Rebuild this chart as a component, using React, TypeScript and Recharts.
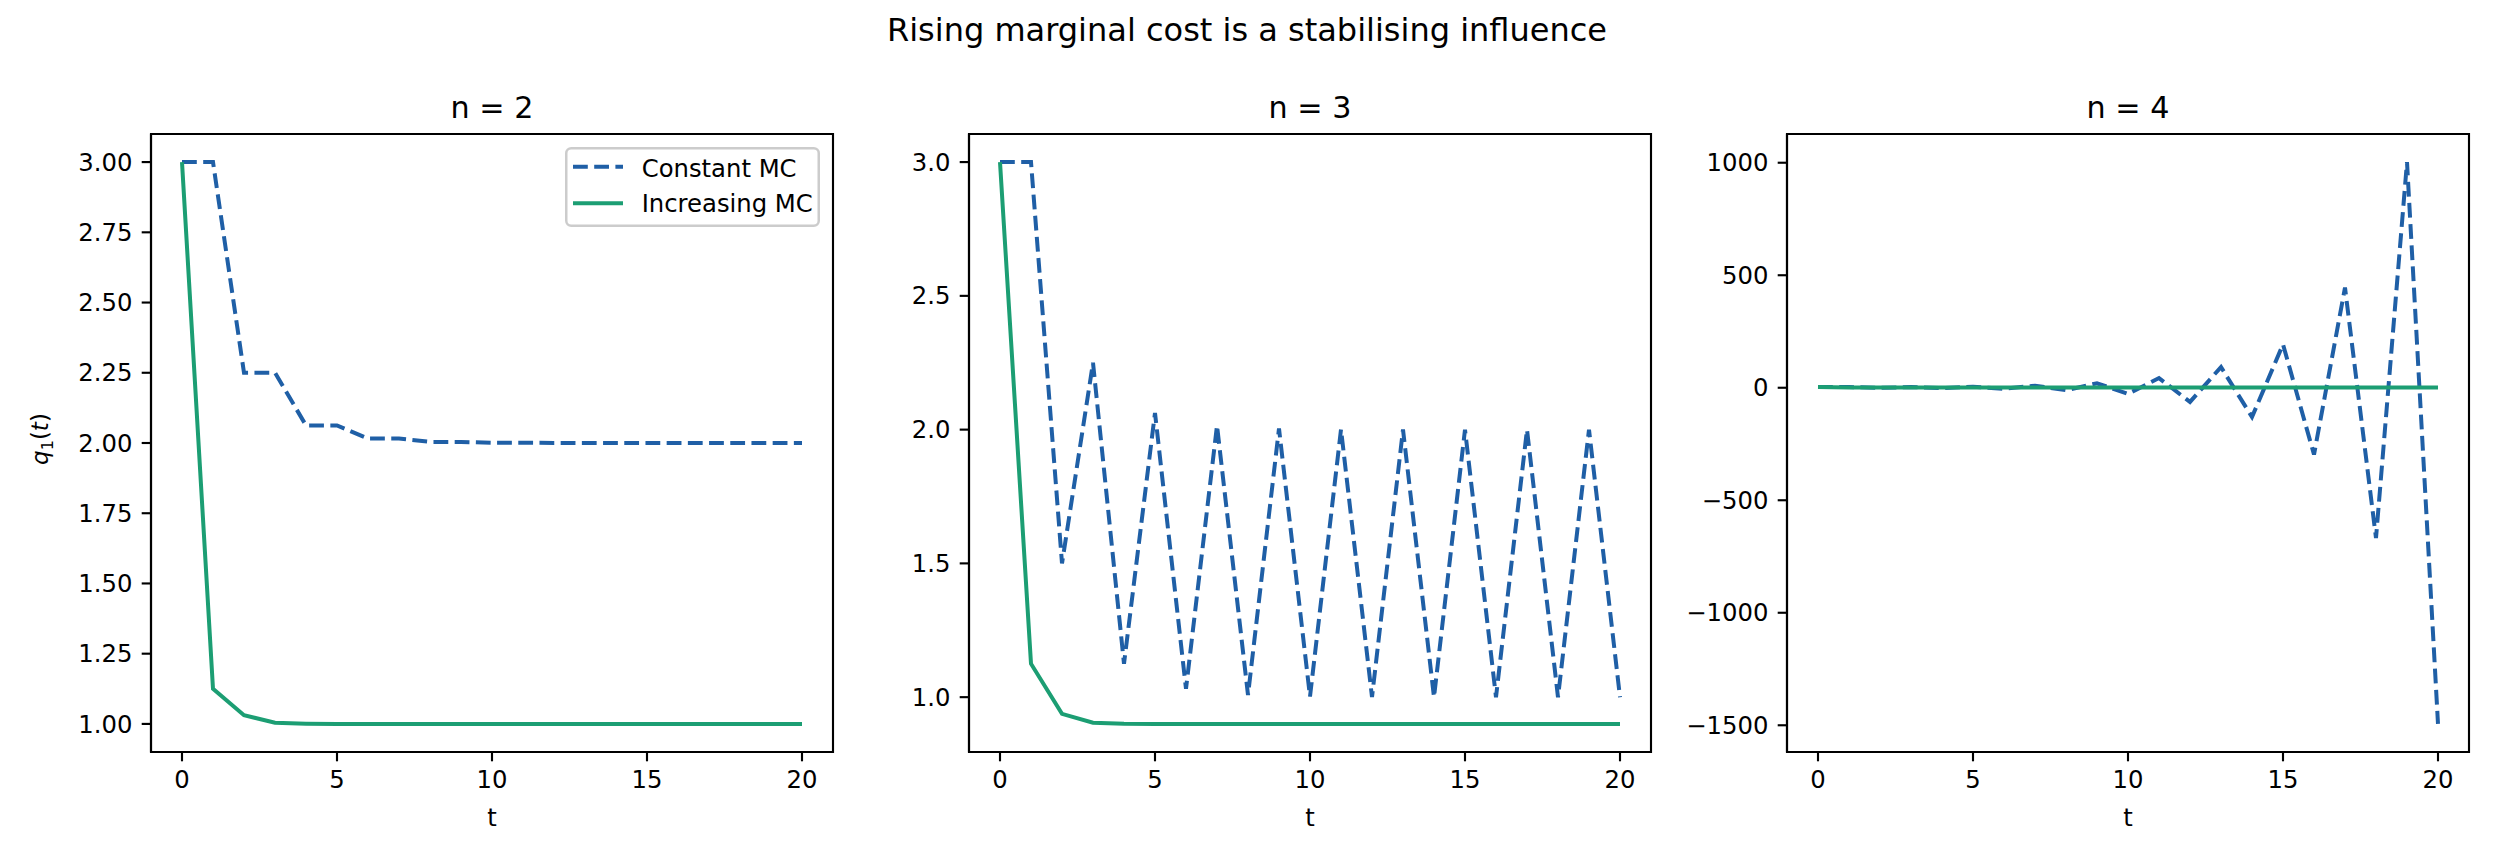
import React from "react";
import { LineChart, Line, XAxis, YAxis, ReferenceArea, Label, Legend } from "recharts";

// time steps
const steps = [0, 1, 2, 3, 4, 5, 6, 7, 8, 9, 10, 11, 12, 13, 14, 15, 16, 17, 18, 19, 20];

// q1(t), constant marginal cost
const constN2 = [3, 3, 2.25, 2.25, 2.0625, 2.0625, 2.0156, 2.0156, 2.0039, 2.0039, 2.001, 2.001, 2.0002, 2.0002, 2.0001, 2.0001, 2, 2, 2, 2, 2];
const constN3 = [3, 3, 1.5, 2.25, 1.125, 2.0625, 1.031, 2.0156, 1.008, 2.004, 1.002, 2.001, 1.0005, 2.0002, 1.0001, 2, 1, 2, 1, 2, 1];
const constN4 = [3, 3, 0, 3, -1.5, 4.5, -4.5, 9, -11, 20, -27, 43, -63, 92, -130, 193, -297, 445, -668, 1003, -1494];

// q1(t), increasing marginal cost
const incN2 = [3, 1.125, 1.031, 1.004, 1.001, 1, 1, 1, 1, 1, 1, 1, 1, 1, 1, 1, 1, 1, 1, 1, 1];
const incN3 = [3, 1.125, 0.9375, 0.9047, 0.9006, 0.9001, 0.9, 0.9, 0.9, 0.9, 0.9, 0.9, 0.9, 0.9, 0.9, 0.9, 0.9, 0.9, 0.9, 0.9, 0.9];
const incN4 = [3, 1.125, 0.875, 0.82, 0.81, 0.8, 0.8, 0.8, 0.8, 0.8, 0.8, 0.8, 0.8, 0.8, 0.8, 0.8, 0.8, 0.8, 0.8, 0.8, 0.8];

const xTicks = [0, 5, 10, 15, 20];
const yTicksN2 = [1, 1.25, 1.5, 1.75, 2, 2.25, 2.5, 2.75, 3];
const yTicksN3 = [1, 1.5, 2, 2.5, 3];
const yTicksN4 = [-1500, -1000, -500, 0, 500, 1000];

const BLUE = "#1f5fa6";
const GREEN = "#1c9e73";
const FONT = "DejaVu Sans";
const TICK_FS = 24.3;
const SUPTITLE_FS = 32;
const TITLE_FS = 30.2;
const DASH = "14.8 6.4";

const PLOT_TOP = 134;
const PLOT_W = 682;
const PLOT_H = 618;
const MT = 10;
const MR = 12;
const XH = 100;

const buildRows = (a: number[], b: number[]) => steps.map((t, i) => ({ t, cmc: a[i], imc: b[i] }));

const minusFmt = (v: number) => String(v).replace("-", "\u2212");

const panels = [
  { title: "n = 2", left: 151, yw: 151, rows: buildRows(constN2, incN2), domain: [0.9, 3.1], ticks: yTicksN2, fmt: (v: number) => v.toFixed(2), ylabel: true, legend: true },
  { title: "n = 3", left: 969, yw: 130, rows: buildRows(constN3, incN3), domain: [0.795, 3.105], ticks: yTicksN3, fmt: (v: number) => v.toFixed(1), ylabel: false, legend: false },
  { title: "n = 4", left: 1787, yw: 130, rows: buildRows(constN4, incN4), domain: [-1618.8, 1127.7], ticks: yTicksN4, fmt: minusFmt, ylabel: false, legend: false },
];

const LegendBox = () => (
  <svg width={256} height={81} style={{ display: "block" }}>
    <rect x={1.25} y={1.25} width={252.5} height={77.5} rx={5} fill="#fff" fillOpacity={0.8} stroke="#cccccc" strokeWidth={2.5} />
    <line x1={8} x2={58} y1={19.7} y2={19.7} stroke={BLUE} strokeWidth={4} strokeDasharray={DASH} />
    <text x={76.7} y={29.7} fontFamily={FONT} fontSize={TICK_FS} fill="#000">Constant MC</text>
    <line x1={8} x2={58} y1={56.3} y2={56.3} stroke={GREEN} strokeWidth={4} />
    <text x={76.7} y={64.7} fontFamily={FONT} fontSize={TICK_FS} fill="#000">Increasing MC</text>
  </svg>
);

const xLabel = (props: any) => {
  const vb = props.viewBox || {};
  return (
    <text x={vb.x + vb.width / 2} y={vb.y + 74} textAnchor="middle" fontFamily={FONT} fontSize={TICK_FS} fill="#000">t</text>
  );
};

const yLabel = (props: any) => {
  const vb = props.viewBox || {};
  const cx = vb.x + 48;
  const cy = vb.y + vb.height / 2 - 4;
  return (
    <text x={cx} y={cy} transform={`rotate(-90, ${cx}, ${cy})`} textAnchor="middle" fontFamily={FONT} fontSize={23} fill="#000">
      <tspan fontStyle="italic">q</tspan>
      <tspan fontSize={16} dy={5}>1</tspan>
      <tspan dy={-5}>(</tspan>
      <tspan fontStyle="italic">t</tspan>
      <tspan>)</tspan>
    </text>
  );
};

function Panel({ p }: { p: any }) {
  const width = p.yw + PLOT_W + MR;
  const height = MT + PLOT_H + XH;
  const axisStyle = { stroke: "#000", strokeWidth: 2.13 };
  const tickStyle = { fontFamily: FONT, fontSize: TICK_FS, fill: "#000" };
  return (
    <div style={{ position: "absolute", left: p.left - p.yw, top: PLOT_TOP - MT }}>
      <LineChart width={width} height={height} data={p.rows} margin={{ top: MT, right: MR, bottom: 0, left: 0 }}>
        <XAxis
          dataKey="t"
          type="number"
          domain={[-1, 21]}
          ticks={xTicks}
          height={XH}
          axisLine={axisStyle}
          tickLine={axisStyle}
          tickSize={9.3}
          tickMargin={9.3}
          tick={tickStyle}
          allowDataOverflow
        >
          <Label content={xLabel} />
        </XAxis>
        <YAxis
          type="number"
          domain={p.domain}
          ticks={p.ticks}
          tickFormatter={p.fmt}
          width={p.yw}
          axisLine={axisStyle}
          tickLine={axisStyle}
          tickSize={9.3}
          tickMargin={9.3}
          tick={tickStyle}
          allowDataOverflow
        >
          {p.ylabel ? <Label content={yLabel} /> : null}
        </YAxis>
        <ReferenceArea x1={-1} x2={21} y1={p.domain[0]} y2={p.domain[1]} fill="none" stroke="#000" strokeWidth={2.13} ifOverflow="visible" />
        <Line dataKey="cmc" name="Constant MC" type="linear" stroke={BLUE} strokeWidth={4} strokeDasharray={DASH} dot={false} isAnimationActive={false} />
        <Line dataKey="imc" name="Increasing MC" type="linear" stroke={GREEN} strokeWidth={4} dot={false} isAnimationActive={false} />
        {p.legend ? (
          <Legend
            layout="horizontal"
            verticalAlign="middle"
            align="center"
            content={() => <LegendBox />}
            wrapperStyle={{ position: "absolute", left: 565 - (p.left - p.yw), top: 147 - (PLOT_TOP - MT), width: 256, height: 81 }}
          />
        ) : null}
      </LineChart>
    </div>
  );
}

export default function App() {
  return (
    <div style={{ position: "absolute", left: 0, top: 0, width: 2496, height: 864, background: "#fff", overflow: "hidden" }}>
      <svg width={2496} height={864} style={{ position: "absolute", left: 0, top: 0 }}>
        <text x={1247} y={41} textAnchor="middle" fontFamily={FONT} fontSize={SUPTITLE_FS} fill="#000">Rising marginal cost is a stabilising influence</text>
        {panels.map((p) => (
          <text key={p.title} x={p.left + PLOT_W / 2} y={118} textAnchor="middle" fontFamily={FONT} fontSize={TITLE_FS} fill="#000">{p.title}</text>
        ))}
      </svg>
      {panels.map((p) => (
        <Panel key={p.title} p={p} />
      ))}
    </div>
  );
}
